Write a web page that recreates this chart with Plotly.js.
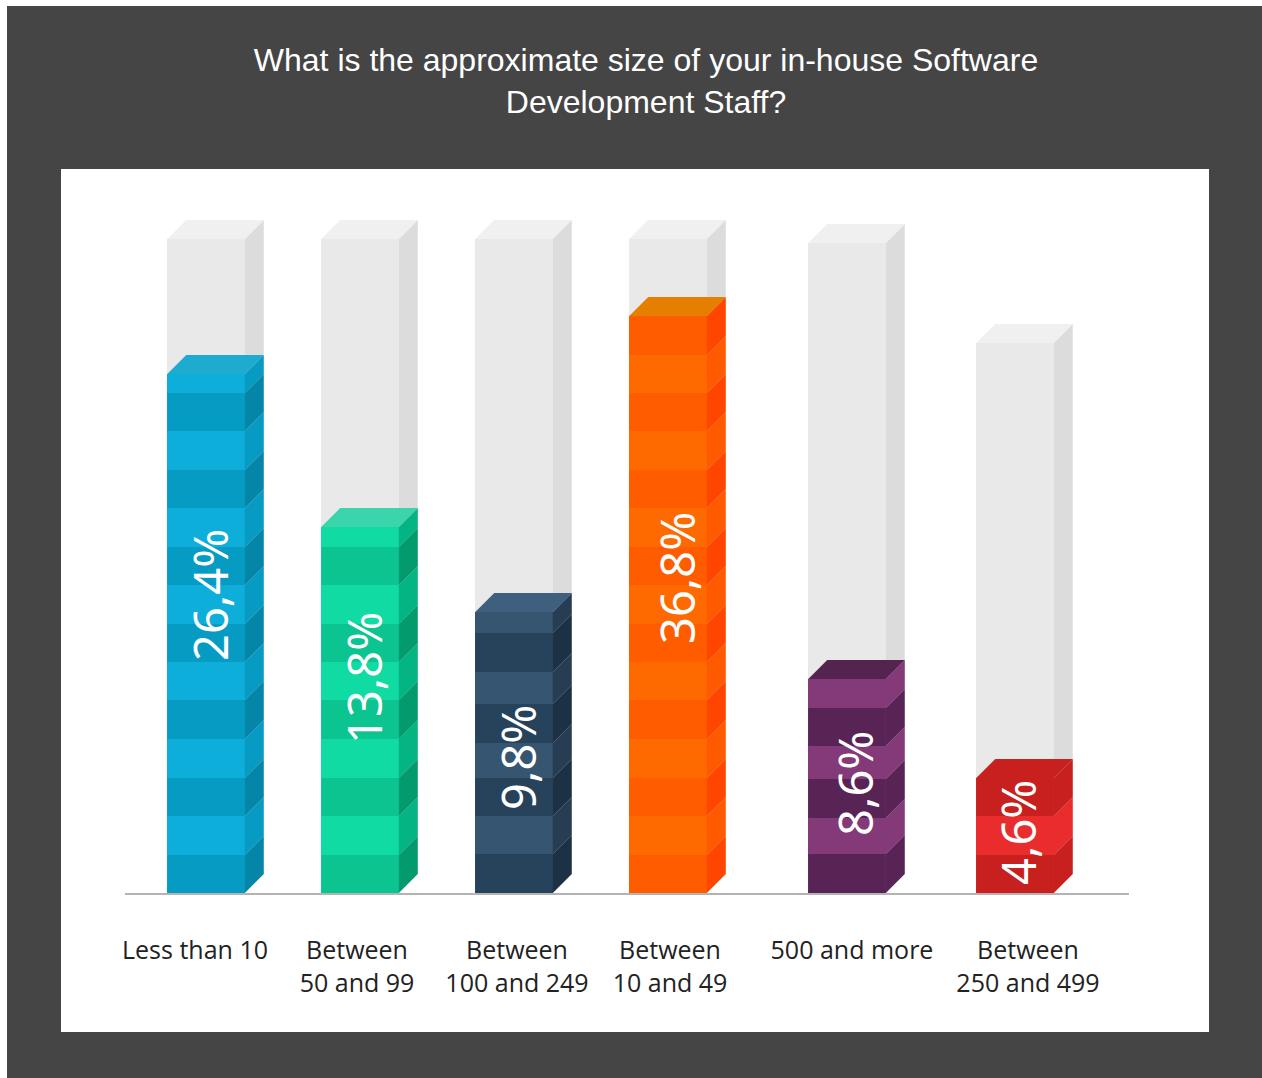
<!DOCTYPE html>
<html>
<head>
<meta charset="utf-8">
<script src="https://cdn.plot.ly/plotly-3.0.1.min.js"></script>
<style>
  html, body { margin: 0; padding: 0; background: #fff; }
  #chart { position: absolute; left: 7px; top: 6px; width: 1255px; height: 1072px; }
</style>
</head>
<body>
<div id="chart"></div>
<script>
// Survey answers
const categories = ['Less than 10', 'Between 50 and 99', 'Between 100 and 249', 'Between 10 and 49', '500 and more', 'Between 250 and 499'];
const tickLabels = ['Less than 10', 'Between<br>50 and 99', 'Between<br>100 and 249', 'Between<br>10 and 49', '500 and more', 'Between<br>250 and 499'];
const shares = [26.4, 13.8, 9.8, 36.8, 8.6, 4.6];
const shareLabels = ['26,4%', '13,8%', '9,8%', '36,8%', '8,6%', '4,6%'];

// Every column is scaled on its own: the value reached at the top of the plot area
const columnScaleTop = [36.83, 27.30, 25.25, 46.18, 29.10, 28.96];

// Layout, in plot-area pixels above the baseline and along the baseline
const plotWidth = 1004, plotHeight = 724, plotLeft = 125, faceWidth = 77.5, depth = 19;
const columnCentres = [206, 360, 514, 668, 847, 1015];
const tickCentres = [195, 357, 517, 670, 852, 1028];
const trackHeights = [654, 654, 654, 654, 650, 550];
const labelCentreX = [210, 364, 518, 677, 855, 1018];
const labelCentreY = [298, 215, 135, 315, 109, 60];

const regularBands = [38, 39, 38, 39, 39, 38, 38, 39, 38, 39, 38, 39, 38, 38, 39];
const columnBands = [regularBands, regularBands, [39, 38, 38, 35, 39, 32, 39, 21], regularBands, [39, 36, 39, 33, 38, 29], regularBands];

// Palette: [light front, dark front, light side, dark side, top]
const palette = [
  ['#0eaedb', '#069bc2', '#079bc3', '#0586a9', '#1eabd0'],
  ['#0fdba3', '#0bc48f', '#04b583', '#039a6e', '#3ad5aa'],
  ['#365570', '#27425b', '#263d53', '#1c3144', '#3f5f7f'],
  ['#ff6a00', '#ff5c00', '#ff5a00', '#ff4500', '#e67f00'],
  ['#843a78', '#572455', '#843a78', '#572455', '#55234f'],
  ['#e92d2d', '#c7201f', '#e92d2d', '#c7201f', '#c7201f']
];
const trackFront = '#e9e9e9', trackSide = '#dcdcdc', trackTop = '#f0f0f0';

const sheet = '#454545', axisGrey = '#b4b4b4';

const yName = i => 'y' + (i + 2);
const yKey = i => 'yaxis' + (i + 2);

function polygon(points, xref, yref, fill, layer) {
  const path = 'M' + points.map(p => p[0] + ',' + p[1]).join(' L') + ' Z';
  return { type: 'path', path, xref, yref, fillcolor: fill, line: { width: 0 }, layer: layer || 'above' };
}

// White sheet behind the columns
const shapes = [{
  type: 'rect', xref: 'paper', yref: 'paper', layer: 'below',
  x0: (61 - 125) / plotWidth, x1: (1209 - 125) / plotWidth,
  y0: (893 - 1032) / plotHeight, y1: 1,
  fillcolor: '#ffffff', line: { width: 0 }
}];

const traces = [{
  type: 'bar', name: 'track', x: columnCentres, y: trackHeights, width: faceWidth,
  marker: { color: trackFront }, hoverinfo: 'skip', showlegend: false, xaxis: 'x', yaxis: 'y'
}];

const yAxes = {};
categories.forEach((cat, i) => {
  const left = columnCentres[i] - faceWidth / 2, right = columnCentres[i] + faceWidth / 2;
  const back = right + depth;

  // Grey track: side and top faces
  const h = trackHeights[i];
  shapes.push(polygon([[right, 0], [back, depth], [back, h + depth], [right, h]], 'x', 'y', trackSide, 'below'));
  shapes.push(polygon([[left, h], [right, h], [back, h + depth], [left + depth, h + depth]], 'x', 'y', trackTop, 'below'));

  yAxes[yKey(i)] = { overlaying: 'y', range: [0, columnScaleTop[i]], visible: false, fixedrange: true };
  traces.push({
    type: 'bar', name: cat, x: [columnCentres[i]], y: [shares[i]], width: faceWidth,
    marker: { color: palette[i][0] }, showlegend: false,
    hovertemplate: cat + ': ' + shareLabels[i] + '<extra></extra>',
    xaxis: 'x', yaxis: yName(i)
  });

  // Stripes on the front and side, then the top face, in the column's own units
  const unit = columnScaleTop[i] / plotHeight, rise = depth * unit, ref = yName(i);
  let edge = 0;
  columnBands[i].forEach((band, j) => {
    const from = edge;
    edge = Math.min(edge + band * unit, shares[i]);
    if (j === columnBands[i].length - 1 || edge >= shares[i]) edge = shares[i];
    if (from >= shares[i]) return;
    if (j % 2 === 0) {
      shapes.push(polygon([[left, from], [right, from], [right, edge], [left, edge]], 'x', ref, palette[i][1]));
    }
    shapes.push(polygon([[right, from], [back, from + rise], [back, edge + rise], [right, edge]], 'x', ref, palette[i][j % 2 === 0 ? 3 : 2]));
  });
  const v = shares[i];
  shapes.push(polygon([[left, v], [right, v], [back, v + rise], [left + depth, v + rise]], 'x', ref, palette[i][4]));
});

const annotations = shareLabels.map((text, i) => ({
  text, x: labelCentreX[i], y: labelCentreY[i], xref: 'x', yref: 'y',
  textangle: -90, showarrow: false, xanchor: 'center', yanchor: 'middle',
  font: { family: 'Noto Sans', size: 47, color: '#ffffff' }
}));

const layout = Object.assign({
  width: 1255, height: 1072,
  margin: { l: 118, r: 133, t: 163, b: 185, pad: 0 },
  paper_bgcolor: sheet, plot_bgcolor: 'rgba(0,0,0,0)',
  showlegend: false, barmode: 'overlay', bargap: 0,
  title: {
    text: 'What is the approximate size of your in-house Software<br>Development Staff?',
    x: (646 - 7) / 1255, xanchor: 'center', xref: 'container',
    y: 1 - 65 / 1072, yanchor: 'middle', yref: 'container',
    font: { family: 'Liberation Sans', size: 32, color: '#ffffff' }
  },
  xaxis: {
    range: [plotLeft, plotLeft + plotWidth], fixedrange: true, showgrid: false, zeroline: false,
    tickmode: 'array', tickvals: tickCentres, ticktext: tickLabels,
    ticks: 'outside', ticklen: 34, tickcolor: 'rgba(0,0,0,0)', tickangle: 0,
    tickfont: { family: 'Open Sans', size: 25, color: '#222222' },
    showline: true, linecolor: axisGrey, linewidth: 2
  },
  yaxis: { range: [0, plotHeight], visible: false, fixedrange: true },
  shapes, annotations
}, yAxes);

Plotly.newPlot('chart', traces, layout, { displayModeBar: false, responsive: false });
</script>
</body>
</html>
